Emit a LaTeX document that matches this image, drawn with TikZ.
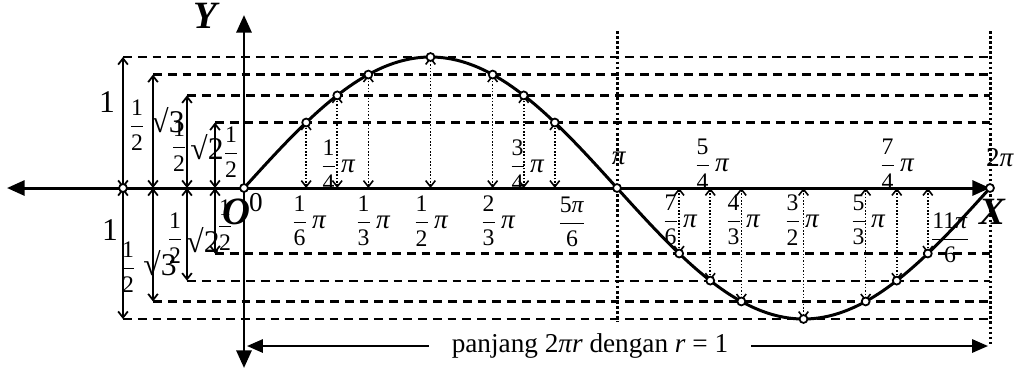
\documentclass[tikz,border=0pt]{standalone}
\usepackage{amsmath}
\usepackage{fontspec}
\setmainfont{Liberation Serif}
\usetikzlibrary{arrows.meta}

\newcommand{\fr}[2]{{\fontsize{13.5}{15}\selectfont$\dfrac{\text{#1}}{\text{#2}}$}}
\newcommand{\ppi}{\textit{π}}

\begin{document}
\begin{tikzpicture}[
  x=0.02cm,y=-0.02cm,
  font=\fontsize{15.5}{17}\selectfont,
  axis/.style={line width=1.7pt,{Triangle[length=10pt,width=8.5pt]}-{Triangle[length=10pt,width=8.5pt]}},
  guide/.style={line width=1.3pt,dash pattern=on 5pt off 3.4pt},
  vdot/.style={line width=1.7pt,dash pattern=on 1.5pt off 1.4pt},
  dim/.style={line width=1pt,{Straight Barb[length=3.5pt,width=5.5pt]}-{Straight Barb[length=3.5pt,width=5.5pt]}},
  proj/.style={dim,line width=0.9pt,dash pattern=on 0.9pt off 1pt},
  lenarr/.style={line width=1.2pt,-{Triangle[length=9pt,width=7.5pt]}},
  dot/.style={circle,draw,fill=white,line width=1pt,inner sep=0pt,minimum size=4.5pt},
  big/.style={font=\fontsize{22}{24}\selectfont\bfseries\itshape},
  num/.style={font=\fontsize{18}{20}\selectfont}
]
\useasboundingbox (0,0) rectangle (1017,370);
\foreach \v/\x/\n in {1/123/a,0.8660/153/b,0.7071/187/c,0.5/215/d} {
  \coordinate (\n u) at (\x,{188-131*\v});
  \coordinate (\n m) at (\x,188);
  \coordinate (\n l) at (\x,{188+131*\v});
  \draw[guide] (\n u) -- (990,{188-131*\v});
  \draw[guide] (\n l) -- (990,{188+131*\v});
  \draw[dim] (\n u) -- (\n m);
  \draw[dim] (\n m) -- (\n l);
}
\draw[vdot] (617,31) -- (617,322);
\draw[vdot] (990,31) -- (990,345);
\draw[axis] (7,188) -- (990,188);
\draw[axis] (244,15) -- (244,368);
\draw[line width=1.7pt] plot[domain=0:360,samples=121,smooth] ({244+373*(\x/180)},{188-131*sin(\x)});
\foreach \a in {30,45,60,90,120,135,150,210,225,240,270,300,315,330} {
  \coordinate (p\a) at ({244+373*(\a/180)},{188-131*sin(\a)});
  \coordinate (q\a) at ({244+373*(\a/180)},188);
  \draw[proj] (q\a) -- (p\a);
}
\foreach \a in {0,30,45,60,90,120,135,150,180,210,225,240,270,300,315,330,360}
  \node[dot] (d\a) at ({244+373*(\a/180)},{188-131*sin(\a)}) {};
\node[dot] (da) at (am) {};
\node[big] (ylab) at (205,16) {Y};
\node[big] (xlab) at (992,212) {X};
\node[big] (olab) at (236,212) {O};
\node (zero) at (256,203) {0};
\node[num] (one1) at (107,102) {1};
\node[num] (one2) at (110,230) {1};
\node (h1) at (137,125) {\fr{1}{2}};
\node[num] (r1) at (168,120) {√3};
\node (h2) at (179,146) {\fr{1}{2}};
\node[num] (r2) at (207,147) {√2};
\node (h3) at (231,152) {\fr{1}{2}};
\node (h4) at (128,267) {\fr{1}{2}};
\node[num] (r4) at (160,263) {√3};
\node (h5) at (175,238) {\fr{1}{2}};
\node[num] (r5) at (203,240) {√2};
\node (h6) at (225,225) {\fr{1}{2}};
\node (l30) at (309,221) {\fr{1}{6}\,\ppi};
\node (l60) at (373,221) {\fr{1}{3}\,\ppi};
\node (l90) at (431,221) {\fr{1}{2}\,\ppi};
\node (l120) at (498,221) {\fr{2}{3}\,\ppi};
\node (l150) at (572,222) {\fr{5\ppi}{6}};
\node (l45) at (338,165) {\fr{1}{4}\,\ppi};
\node (l135) at (527,165) {\fr{3}{4}\,\ppi};
\node (l180) at (619,158) {\ppi};
\node (l360) at (1000,158) {2\ppi};
\node (l225) at (712,164) {\fr{5}{4}\,\ppi};
\node (l315) at (897,164) {\fr{7}{4}\,\ppi};
\node (l210) at (680,220) {\fr{7}{6}\,\ppi};
\node (l240) at (743,220) {\fr{4}{3}\,\ppi};
\node (l270) at (802,220) {\fr{3}{2}\,\ppi};
\node (l300) at (868,220) {\fr{5}{3}\,\ppi};
\node (l330) at (950,238) {\fr{11\ppi}{6}};
\node[inner xsep=13pt] (len) at (590,346) {panjang 2\textit{πr} dengan \textit{r} = 1};
\coordinate (lend) at (247,346);
\coordinate (rend) at (988,346);
\draw[lenarr] (len.west) -- (lend);
\draw[lenarr] (len.east) -- (rend);
\end{tikzpicture}
\end{document}
